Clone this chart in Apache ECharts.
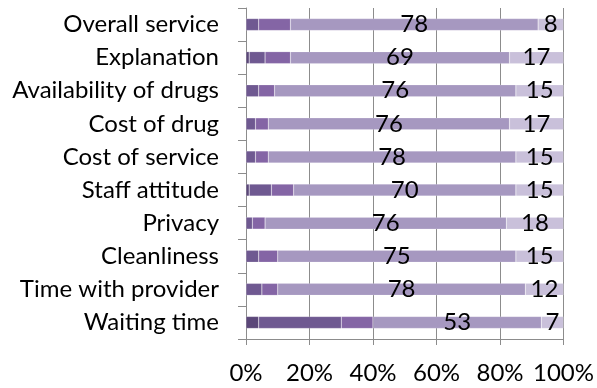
<!DOCTYPE html>
<html><head><meta charset="utf-8">
<script src="https://cdn.jsdelivr.net/npm/echarts@6/dist/echarts.min.js"></script>
<style>html,body{margin:0;padding:0;background:#fff}#c{width:597px;height:388px}</style>
</head><body><div id="c"></div>
<script>
const categories = ["Overall service","Explanation","Availability of drugs","Cost of drug","Cost of service","Staff attitude","Privacy","Cleanliness","Time with provider","Waiting time"];
const veryDissatisfied = [0,1,0,0,0,1,0,0,0,4];
const dissatisfied     = [4,5,4,3,3,7,2,4,5,26];
const neutral          = [10,8,5,4,4,7,4,6,5,10];
const satisfied        = [78,69,76,76,78,70,76,75,78,53];
const verySatisfied    = [8,17,15,17,15,15,18,15,12,7];
const xTicks = [0,20,40,60,80,100];

const FONT = "Lato";
const FS = 24;
function mk(name, data, color, showLabel){
  return {name, type:'bar', stack:'s', data, barWidth:12,
    itemStyle:{color, borderColor:'rgba(255,255,255,0.35)', borderWidth:0.5},
    label:{show:showLabel, position:'inside', color:'#000', fontFamily:FONT, fontSize:FS},
    emphasis:{disabled:true}, animation:false};
}
const chart = echarts.init(document.getElementById('c'), null, {renderer:'canvas'});
chart.setOption({
  animation:false,
  grid:{left:246, right:29, top:8, bottom:49, containLabel:false},
  xAxis:{type:'value', min:0, max:100, interval:20,
    axisLine:{show:true, lineStyle:{color:'#8c8c8c', width:1}},
    axisTick:{show:true, length:6, lineStyle:{color:'#8c8c8c'}},
    splitLine:{show:true, lineStyle:{color:'#8c8c8c', width:1}},
    axisLabel:{formatter: v => xTicks.includes(v) ? v + '%' : '', color:'#000', fontFamily:FONT, fontSize:FS, margin:22}},
  yAxis:{type:'category', data:categories, inverse:true,
    axisLine:{show:true, lineStyle:{color:'#8c8c8c', width:1}},
    axisTick:{show:true, length:8, lineStyle:{color:'#8c8c8c'}},
    axisLabel:{color:'#000', fontFamily:FONT, fontSize:FS, margin:27}},
  series:[
    mk('Very dissatisfied', veryDissatisfied, '#5b4779', false),
    mk('Dissatisfied', dissatisfied, '#6f5991', false),
    mk('Neutral', neutral, '#8465a5', false),
    mk('Satisfied', satisfied, '#a698c0', true),
    mk('Very satisfied', verySatisfied, '#c9c0da', true)
  ]
});
</script></body></html>
